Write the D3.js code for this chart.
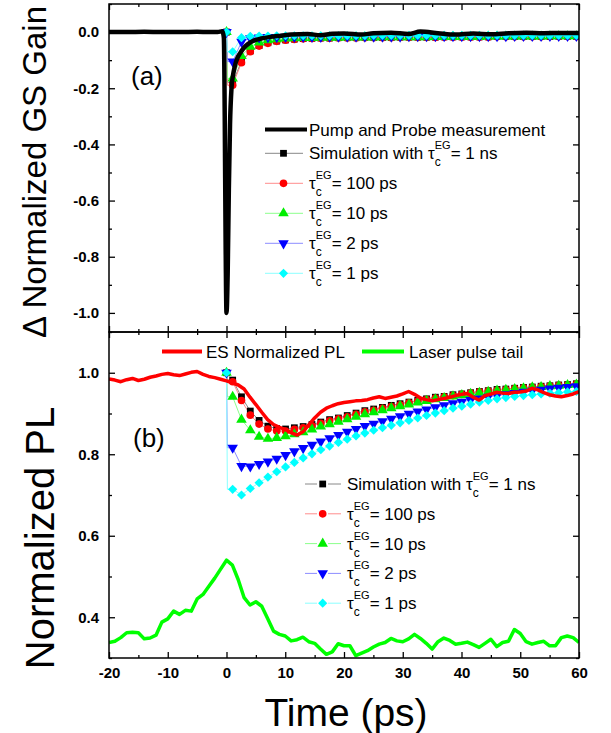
<!DOCTYPE html>
<html>
<head>
<meta charset="utf-8">
<script src="https://cdn.jsdelivr.net/npm/d3@7"></script>
<style>
body { margin: 0; background: #fff; }
svg text { font-family: Arial, "Liberation Sans", sans-serif; fill: #000; }
</style>
</head>
<body>
<div id="chart"></div>
<script>
// ---- data ----
const xTicks = [-20, -10, 0, 10, 20, 30, 40, 50, 60]
const xMinor = [-15, -5, 5, 15, 25, 35, 45, 55]
const gsTicks = [0, -0.2, -0.4, -0.6, -0.8, -1.0]
const gsMinor = [0.1, -0.1, -0.3, -0.5, -0.7, -0.9]
const plTicks = [1.0, 0.8, 0.6, 0.4]
const plMinor = [1.1, 0.9, 0.7, 0.5, 0.3]

// simulation sample times (ps), one marker each
const simTimes = [0, 1.05, 2.55, 4.05, 5.55, 7.05, 8.55, 10.05, 11.55, 13.05, 14.55, 16.05, 17.55, 19.05, 20.55,
    22.05, 23.55, 25.05, 26.55, 28.05, 29.55, 31.05, 32.55, 34.05, 35.55, 37.05, 38.55, 40.05, 41.55, 43.05,
    44.55, 46.05, 47.55, 49.05, 50.55, 52.05, 53.55, 55.05, 56.55, 58.05, 59.55]

// panel (a): delta normalized GS gain
const gs1ns = [0, -0.180, -0.104, -0.067, -0.048, -0.038, -0.032, -0.028, -0.025, -0.023, -0.022, -0.021, -0.021, -0.020,
    -0.020, -0.020, -0.019, -0.019, -0.019, -0.019, -0.018, -0.018, -0.018, -0.018, -0.018, -0.017, -0.017, -0.017,
    -0.017, -0.017, -0.017, -0.016, -0.016, -0.016, -0.016, -0.016, -0.016, -0.016, -0.015, -0.015, -0.015]
const gs100ps = [0, -0.189, -0.109, -0.070, -0.050, -0.040, -0.033, -0.029, -0.026, -0.024, -0.023, -0.022, -0.022, -0.021,
    -0.021, -0.021, -0.020, -0.020, -0.020, -0.020, -0.019, -0.019, -0.019, -0.019, -0.019, -0.018, -0.018, -0.018,
    -0.018, -0.018, -0.018, -0.017, -0.017, -0.017, -0.017, -0.017, -0.017, -0.016, -0.016, -0.016, -0.016]
const gs10ps = [0, -0.165, -0.085, -0.052, -0.037, -0.029, -0.025, -0.023, -0.022, -0.021, -0.021, -0.020, -0.020, -0.020,
    -0.019, -0.019, -0.019, -0.019, -0.018, -0.018, -0.018, -0.018, -0.018, -0.018, -0.017, -0.017, -0.017, -0.017,
    -0.017, -0.017, -0.016, -0.016, -0.016, -0.016, -0.016, -0.016, -0.016, -0.015, -0.015, -0.015, -0.015]
const gs2ps = [0, -0.105, -0.035, -0.022, -0.019, -0.018, -0.018, -0.017, -0.017, -0.017, -0.017, -0.017, -0.016, -0.016,
    -0.016, -0.016, -0.016, -0.016, -0.016, -0.016, -0.016, -0.015, -0.015, -0.015, -0.015, -0.015, -0.015, -0.015,
    -0.015, -0.015, -0.015, -0.015, -0.015, -0.014, -0.014, -0.014, -0.014, -0.014, -0.014, -0.014, -0.014]
const gs1ps = [0, -0.070, -0.020, -0.015, -0.014, -0.014, -0.013, -0.013, -0.013, -0.013, -0.013, -0.013, -0.013, -0.013,
    -0.013, -0.013, -0.013, -0.012, -0.012, -0.012, -0.012, -0.012, -0.012, -0.012, -0.012, -0.012, -0.012, -0.012,
    -0.012, -0.012, -0.012, -0.012, -0.012, -0.012, -0.012, -0.012, -0.012, -0.012, -0.012, -0.012, -0.012]

// pump and probe measurement
const ppTimes = [-20, -17, -14, -11, -8, -5, -3, -1.5, -0.7, -0.45, -0.3, -0.15, 0, 0.2, 0.4, 0.6, 0.85, 1.1, 1.4,
    1.8, 2.3, 3, 3.7, 4.5, 5.9, 7.5, 9.3, 11, 13.8, 16, 18, 20, 23, 25, 28, 31, 33, 36, 39, 42, 45, 48, 51, 54, 57, 60]
const ppValues = [0, 0, 0.001, 0, 0, 0.001, 0, 0, 0.003, -0.02, -0.3, -0.75, -1.0, -0.86, -0.56, -0.33, -0.2, -0.155,
    -0.123, -0.095, -0.076, -0.055, -0.042, -0.032, -0.023, -0.017, -0.013, -0.009, -0.007, -0.011, -0.006, -0.005,
    -0.009, -0.004, -0.002, -0.007, 0.002, -0.004, -0.009, -0.005, -0.008, -0.004, -0.002, -0.004, -0.003, -0.003]

// panel (b): normalized PL
const pl1ns = [1.0, 0.982, 0.941, 0.906, 0.883, 0.869, 0.863, 0.862, 0.865, 0.868, 0.873, 0.879, 0.885, 0.889, 0.895,
    0.901, 0.907, 0.911, 0.915, 0.920, 0.924, 0.928, 0.932, 0.936, 0.940, 0.942, 0.946, 0.948, 0.951, 0.954, 0.956,
    0.959, 0.960, 0.962, 0.964, 0.965, 0.967, 0.968, 0.970, 0.971, 0.973]
const pl100ps = [1.0, 0.978, 0.932, 0.896, 0.874, 0.862, 0.857, 0.857, 0.861, 0.865, 0.870, 0.876, 0.882, 0.887, 0.892,
    0.898, 0.904, 0.908, 0.913, 0.917, 0.921, 0.926, 0.930, 0.934, 0.938, 0.941, 0.944, 0.947, 0.950, 0.953, 0.955,
    0.957, 0.959, 0.961, 0.963, 0.964, 0.966, 0.967, 0.969, 0.970, 0.972]
const pl10ps = [1.0, 0.941, 0.885, 0.859, 0.843, 0.838, 0.840, 0.844, 0.849, 0.854, 0.861, 0.868, 0.874, 0.880, 0.886,
    0.892, 0.898, 0.903, 0.908, 0.913, 0.918, 0.922, 0.927, 0.931, 0.935, 0.938, 0.942, 0.945, 0.948, 0.951, 0.953,
    0.956, 0.958, 0.960, 0.962, 0.964, 0.965, 0.967, 0.968, 0.970, 0.971]
const pl2ps = [1.0, 0.816, 0.771, 0.770, 0.776, 0.782, 0.789, 0.798, 0.807, 0.815, 0.823, 0.831, 0.839, 0.847, 0.855,
    0.862, 0.869, 0.875, 0.881, 0.887, 0.893, 0.899, 0.905, 0.910, 0.915, 0.920, 0.925, 0.929, 0.933, 0.937, 0.941,
    0.944, 0.947, 0.950, 0.953, 0.956, 0.958, 0.961, 0.963, 0.965, 0.967]
const pl1ps = [1.0, 0.714, 0.700, 0.716, 0.730, 0.744, 0.757, 0.769, 0.780, 0.791, 0.801, 0.811, 0.820, 0.829, 0.837,
    0.845, 0.852, 0.859, 0.865, 0.871, 0.877, 0.883, 0.889, 0.895, 0.901, 0.907, 0.913, 0.918, 0.923, 0.928, 0.932,
    0.936, 0.939, 0.942, 0.944, 0.946, 0.948, 0.950, 0.951, 0.953, 0.954]

// measured curves, 1 ps steps from -20 to 60
const measTimes = d3.range(-20, 61, 1)
const esPL = [0.985, 0.982, 0.978, 0.983, 0.986, 0.981, 0.984, 0.989, 0.992, 0.996, 0.998, 0.995, 0.993, 0.997, 1.001,
    1.003, 0.996, 0.991, 0.988, 0.984, 0.980, 0.975, 0.970, 0.960, 0.940, 0.922, 0.903, 0.885, 0.873, 0.866, 0.861,
    0.853, 0.847, 0.855, 0.872, 0.889, 0.903, 0.913, 0.919, 0.924, 0.927, 0.929, 0.931, 0.932, 0.934, 0.938, 0.941,
    0.937, 0.940, 0.943, 0.948, 0.954, 0.947, 0.938, 0.934, 0.931, 0.934, 0.937, 0.940, 0.944, 0.947, 0.949, 0.940,
    0.933, 0.944, 0.948, 0.952, 0.950, 0.949, 0.952, 0.953, 0.955, 0.962, 0.958, 0.951, 0.946, 0.943, 0.941, 0.944,
    0.948, 0.954]
const laserTail = [0.338, 0.341, 0.350, 0.362, 0.363, 0.362, 0.347, 0.349, 0.356, 0.388, 0.396, 0.415, 0.407, 0.417,
    0.415, 0.445, 0.456, 0.476, 0.496, 0.518, 0.540, 0.528, 0.492, 0.448, 0.430, 0.438, 0.427, 0.397, 0.366, 0.358,
    0.354, 0.342, 0.345, 0.351, 0.340, 0.336, 0.322, 0.309, 0.315, 0.335, 0.330, 0.330, 0.306, 0.312, 0.318, 0.327,
    0.334, 0.338, 0.348, 0.342, 0.340, 0.347, 0.358, 0.348, 0.336, 0.322, 0.340, 0.349, 0.343, 0.334, 0.336, 0.339,
    0.333, 0.326, 0.336, 0.346, 0.328, 0.338, 0.341, 0.370, 0.360, 0.340, 0.334, 0.338, 0.341, 0.330, 0.330, 0.350,
    0.354, 0.350, 0.338]

const simLabels = ['1 ns', '100 ps', '10 ps', '2 ps', '1 ps']
const simColors = ['#000000', '#ff0000', '#00ee00', '#0000ff', '#00ffff']
const simLineColors = ['#888888', '#ff8c8c', '#8cff8c', '#8c8cff', '#8cffff']

// ---- layout ----
const width = 611, height = 733
const left = 109, right = 579
const topA = 4, mid = 332, bottomB = 658

const svg = d3.select('#chart').append('svg')
    .attr('width', width)
    .attr('height', height)

const x = d3.scaleLinear().domain([-20, 60]).range([left, right])
const yGS = d3.scaleLinear().domain([-1.068, 0.1]).range([mid, topA])
const yPL = d3.scaleLinear().domain([0.3, 1.1]).range([bottomB, mid])

// square, circle, triangle, down triangle, diamond (square turned 45deg)
const symbolFor = [d3.symbolSquare, d3.symbolCircle, d3.symbolTriangle, d3.symbolTriangle, d3.symbolSquare]
const symbolSize = [46, 46, 48, 48, 42]
function markerPath (i) {
    return d3.symbol().type(symbolFor[i]).size(symbolSize[i])()
}
function markerTransform (i, px, py) {
    if (i === 3) return `translate(${px},${py}) rotate(180)`
    if (i === 4) return `translate(${px},${py}) rotate(45)`
    return `translate(${px},${py})`
}

function frame (yScale, yMajor, yMinorVals, top, bottom, withXLabels) {
    const g = svg.append('g').attr('class', 'frame')
    const fmtY = d => d.toFixed(1)
    // x axes (bottom and top of panel)
    g.append('g').attr('transform', `translate(0,${bottom})`)
        .call(d3.axisBottom(x).tickValues(xTicks).tickSize(-6).tickSizeOuter(0).tickPadding(9)
            .tickFormat(withXLabels ? d => d : ''))
    g.append('g').attr('transform', `translate(0,${bottom})`)
        .call(d3.axisBottom(x).tickValues(xMinor).tickSize(-3).tickSizeOuter(0).tickFormat(''))
    g.append('g').attr('transform', `translate(0,${top})`)
        .call(d3.axisTop(x).tickValues(xTicks).tickSize(-6).tickSizeOuter(0).tickFormat(''))
    g.append('g').attr('transform', `translate(0,${top})`)
        .call(d3.axisTop(x).tickValues(xMinor).tickSize(-3).tickSizeOuter(0).tickFormat(''))
    // y axes (left and right)
    g.append('g').attr('transform', `translate(${left},0)`)
        .call(d3.axisLeft(yScale).tickValues(yMajor).tickSize(-6).tickSizeOuter(0).tickPadding(10).tickFormat(fmtY))
    g.append('g').attr('transform', `translate(${left},0)`)
        .call(d3.axisLeft(yScale).tickValues(yMinorVals).tickSize(-3).tickSizeOuter(0).tickFormat(''))
    g.append('g').attr('transform', `translate(${right},0)`)
        .call(d3.axisRight(yScale).tickValues(yMajor).tickSize(-6).tickSizeOuter(0).tickFormat(''))
    g.append('g').attr('transform', `translate(${right},0)`)
        .call(d3.axisRight(yScale).tickValues(yMinorVals).tickSize(-3).tickSizeOuter(0).tickFormat(''))
    g.selectAll('.domain').remove()
    g.selectAll('.tick line').attr('stroke', '#000').attr('stroke-width', 1.3)
    g.selectAll('.tick text').style('font-size', '15px').style('font-weight', 'bold').attr('fill', '#111')
    g.append('rect')
        .attr('x', left).attr('y', top)
        .attr('width', right - left).attr('height', bottom - top)
        .attr('fill', 'none').attr('stroke', '#000').attr('stroke-width', 1.5)
}

svg.append('defs').selectAll('clipPath')
    .data([['clipA', topA, mid], ['clipB', mid, bottomB]])
    .join('clipPath').attr('id', d => d[0])
    .append('rect')
    .attr('x', left).attr('y', d => d[1])
    .attr('width', right - left).attr('height', d => d[2] - d[1])

function drawSims (yScale, series, clip) {
    const g = svg.append('g').attr('clip-path', `url(#${clip})`)
    const line = d3.line().x(d => x(d.t)).y(d => yScale(d.v))
    series.forEach((vals, i) => {
        const pts = simTimes.map((t, j) => ({ t: t, v: vals[j] }))
        // the simulated drop at t=0 is vertical, before the first marker
        const linePts = [pts[0], { t: 0.15, v: vals[1] }].concat(pts.slice(1))
        g.append('path')
            .datum(linePts)
            .attr('d', line)
            .attr('fill', 'none')
            .attr('stroke', simLineColors[i])
            .attr('stroke-width', 1)
    })
    series.forEach((vals, i) => {
        g.append('g').selectAll('path')
            .data(simTimes.map((t, j) => ({ t: t, v: vals[j] })))
            .join('path')
            .attr('d', markerPath(i))
            .attr('transform', d => markerTransform(i, x(d.t), yScale(d.v)))
            .attr('fill', simColors[i])
    })
}

// ---- panel (a) ----
drawSims(yGS, [gs1ns, gs100ps, gs10ps, gs2ps, gs1ps], 'clipA')
svg.append('path')
    .datum(ppTimes.map((t, i) => ({ t: t, v: ppValues[i] })))
    .attr('clip-path', 'url(#clipA)')
    .attr('d', d3.line().x(d => x(d.t)).y(d => yGS(d.v)).curve(d3.curveMonotoneX))
    .attr('fill', 'none')
    .attr('stroke', '#000')
    .attr('stroke-width', 4.5)
    .attr('stroke-linejoin', 'round')

// ---- panel (b) ----
drawSims(yPL, [pl1ns, pl100ps, pl10ps, pl2ps, pl1ps], 'clipB')
const measLine = d3.line().x(d => x(d.t)).y(d => yPL(d.v))
svg.append('path')
    .datum(measTimes.map((t, i) => ({ t: t, v: laserTail[i] })))
    .attr('clip-path', 'url(#clipB)')
    .attr('d', measLine)
    .attr('fill', 'none').attr('stroke', '#00ff00').attr('stroke-width', 3.5).attr('stroke-linejoin', 'round')
svg.append('path')
    .datum(measTimes.map((t, i) => ({ t: t, v: esPL[i] })))
    .attr('clip-path', 'url(#clipB)')
    .attr('d', measLine)
    .attr('fill', 'none').attr('stroke', '#ff0000').attr('stroke-width', 3.5).attr('stroke-linejoin', 'round')

frame(yGS, gsTicks, gsMinor, topA, mid, false)
frame(yPL, plTicks, plMinor, mid, bottomB, true)

// ---- legends ----
function tauLabel (g, px, py, rest) {
    const t = g.append('text').attr('x', px).attr('y', py).style('font-size', '17px')
    t.append('tspan').text(rest[0] + 'τ')
    t.append('tspan').attr('dy', 7).style('font-size', '12px').text('c')
    t.append('tspan').attr('dx', -6).attr('dy', -17).style('font-size', '11px').text('EG')
    t.append('tspan').attr('dy', 10).text('= ' + rest[1])
}

const legA = svg.append('g')
legA.append('line').attr('x1', 265).attr('x2', 307).attr('y1', 129.5).attr('y2', 129.5)
    .attr('stroke', '#000').attr('stroke-width', 4)
legA.append('text').attr('x', 309).attr('y', 135.5).style('font-size', '17px').text('Pump and Probe measurement')
simLabels.forEach((lab, i) => {
    const cy = 153.3 + 30 * i
    legA.append('line').attr('x1', 265).attr('x2', 303).attr('y1', cy).attr('y2', cy)
        .attr('stroke', simLineColors[i]).attr('stroke-width', 1)
    legA.append('path').attr('d', markerPath(i)).attr('transform', markerTransform(i, 283.5, cy)).attr('fill', simColors[i])
    tauLabel(legA, 309, cy + 6, [i === 0 ? 'Simulation with ' : '', lab])
})

const legB = svg.append('g')
legB.append('line').attr('x1', 162).attr('x2', 202).attr('y1', 351.5).attr('y2', 351.5)
    .attr('stroke', '#ff0000').attr('stroke-width', 4)
legB.append('text').attr('x', 206).attr('y', 357.5).style('font-size', '17px').text('ES Normalized PL')
legB.append('line').attr('x1', 362).attr('x2', 404).attr('y1', 351.5).attr('y2', 351.5)
    .attr('stroke', '#00ff00').attr('stroke-width', 4)
legB.append('text').attr('x', 409).attr('y', 357.5).style('font-size', '17px').text('Laser pulse tail')
simLabels.forEach((lab, i) => {
    const cy = 484 + 29.8 * i
    legB.append('line').attr('x1', 305).attr('x2', 317).attr('y1', cy).attr('y2', cy)
        .attr('stroke', simLineColors[i]).attr('stroke-width', 1)
    legB.append('line').attr('x1', 328).attr('x2', 341).attr('y1', cy).attr('y2', cy)
        .attr('stroke', simLineColors[i]).attr('stroke-width', 1)
    legB.append('path').attr('d', markerPath(i)).attr('transform', markerTransform(i, 322.7, cy)).attr('fill', simColors[i])
    tauLabel(legB, 347, cy + 6, [i === 0 ? 'Simulation with ' : '', lab])
})

// panel tags and axis titles
svg.append('text').attr('x', 131).attr('y', 85).style('font-size', '26px').text('(a)')
svg.append('text').attr('x', 133).attr('y', 447).style('font-size', '26px').text('(b)')

svg.append('text')
    .attr('transform', 'translate(46,172) rotate(-90)')
    .attr('text-anchor', 'middle')
    .style('font-size', '33px')
    .text('Δ Normalized GS Gain')
svg.append('text')
    .attr('transform', 'translate(54,538) rotate(-90)')
    .attr('text-anchor', 'middle')
    .style('font-size', '40px')
    .text('Normalized PL')
svg.append('text')
    .attr('x', 346).attr('y', 726)
    .attr('text-anchor', 'middle')
    .style('font-size', '39px')
    .text('Time (ps)')
</script>
</body>
</html>
